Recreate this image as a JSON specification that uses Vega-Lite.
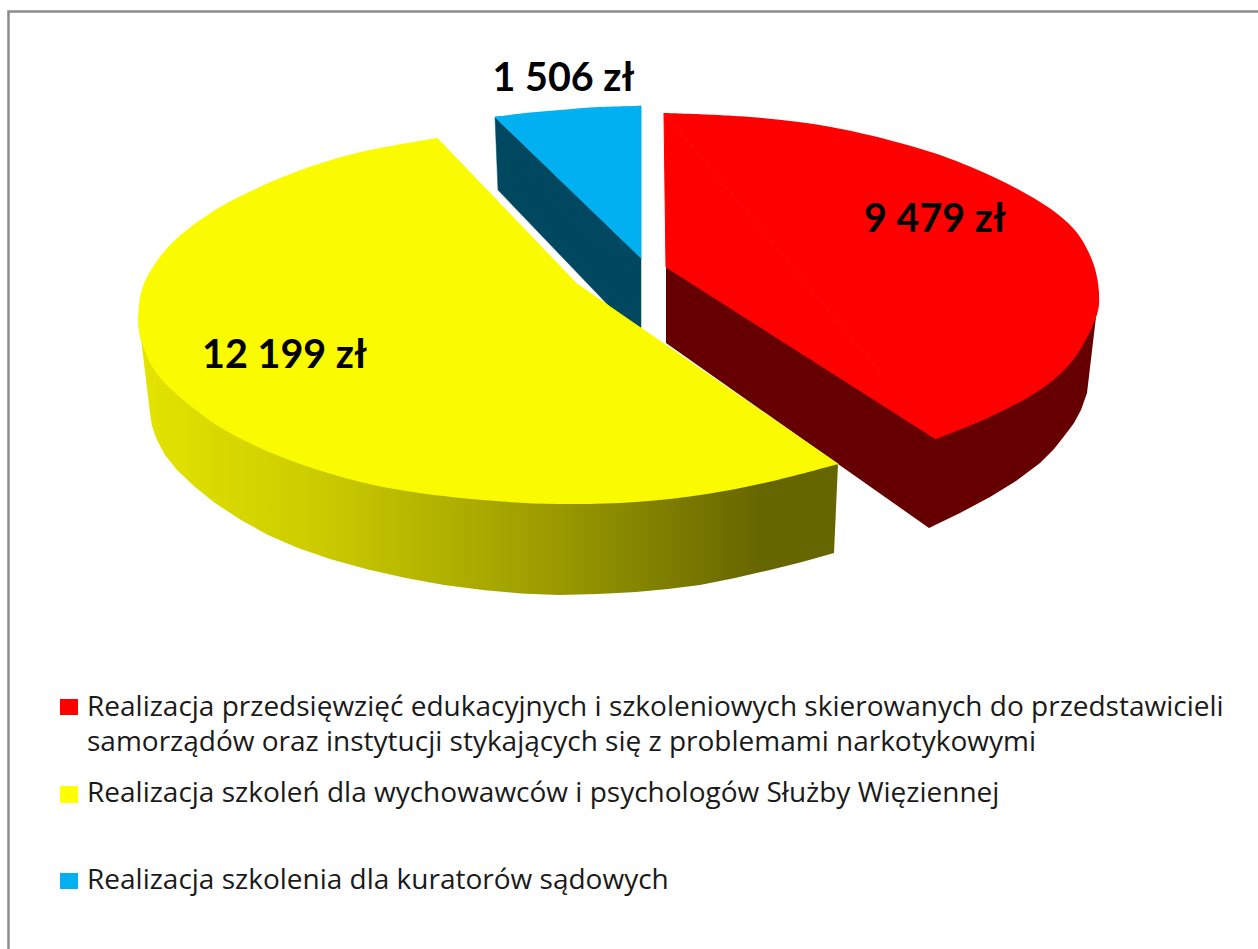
{"$schema":"https://vega.github.io/schema/vega-lite/v6.json","width":1258,"height":949,"padding":0,"autosize":"none","background":"white","config":{"view":{"stroke":null}},
"datasets":{
"shapes":[
{"part":"blueSide","i":1,"x":495,"y":117},{"part":"blueSide","i":2,"x":498,"y":190},{"part":"blueSide","i":3,"x":610,"y":307},{"part":"blueSide","i":4,"x":641,"y":332},{"part":"blueSide","i":5,"x":641,"y":257},
{"part":"blueWedge","i":1,"x":495,"y":117},{"part":"blueWedge","i":2,"x":641,"y":106},{"part":"blueWedge","i":3,"x":641,"y":258},{"part":"blueWedge","i":4,"x":495,"y":117},
{"part":"blueArc","i":1,"x":495,"y":117},{"part":"blueArc","i":2,"x":525,"y":113},{"part":"blueArc","i":3,"x":560,"y":110},{"part":"blueArc","i":4,"x":600,"y":107},{"part":"blueArc","i":5,"x":641,"y":106},
{"part":"redSide","i":1,"x":666,"y":267},{"part":"redSide","i":2,"x":666,"y":343},{"part":"redSide","i":3,"x":929,"y":528},{"part":"redSide","i":4,"x":960,"y":513},{"part":"redSide","i":5,"x":990,"y":497},{"part":"redSide","i":6,"x":1016,"y":481},{"part":"redSide","i":7,"x":1040,"y":463},{"part":"redSide","i":8,"x":1054,"y":449},{"part":"redSide","i":9,"x":1065,"y":435},{"part":"redSide","i":10,"x":1074,"y":423},{"part":"redSide","i":11,"x":1081,"y":410},{"part":"redSide","i":12,"x":1087,"y":393},{"part":"redSide","i":13,"x":1098,"y":300},{"part":"redSide","i":14,"x":936,"y":400},
{"part":"redWedge","i":1,"x":664,"y":113},{"part":"redWedge","i":2,"x":936,"y":439},{"part":"redWedge","i":3,"x":666,"y":267},{"part":"redWedge","i":4,"x":664,"y":113},
{"part":"redArc","i":1,"x":664,"y":113},{"part":"redArc","i":2,"x":750,"y":117},{"part":"redArc","i":3,"x":831,"y":127},{"part":"redArc","i":4,"x":911,"y":146},{"part":"redArc","i":5,"x":971,"y":167},{"part":"redArc","i":6,"x":1032,"y":197},{"part":"redArc","i":7,"x":1072,"y":227},{"part":"redArc","i":8,"x":1092,"y":260},{"part":"redArc","i":9,"x":1099,"y":293},{"part":"redArc","i":10,"x":1095,"y":320},{"part":"redArc","i":11,"x":1073,"y":360},{"part":"redArc","i":12,"x":1040,"y":390},{"part":"redArc","i":13,"x":990,"y":417},{"part":"redArc","i":14,"x":936,"y":439},
{"part":"yellowSide","i":1,"x":140,"y":330},{"part":"yellowSide","i":2,"x":838,"y":464},{"part":"yellowSide","i":3,"x":834,"y":553},{"part":"yellowSide","i":4,"x":802,"y":562},{"part":"yellowSide","i":5,"x":770,"y":570},{"part":"yellowSide","i":6,"x":735,"y":578},{"part":"yellowSide","i":7,"x":700,"y":585},{"part":"yellowSide","i":8,"x":668,"y":589},{"part":"yellowSide","i":9,"x":636,"y":592},{"part":"yellowSide","i":10,"x":598,"y":594},{"part":"yellowSide","i":11,"x":559,"y":595},{"part":"yellowSide","i":12,"x":521,"y":593.5},{"part":"yellowSide","i":13,"x":483,"y":590},{"part":"yellowSide","i":14,"x":444,"y":585},{"part":"yellowSide","i":15,"x":406,"y":578},{"part":"yellowSide","i":16,"x":368,"y":569.5},{"part":"yellowSide","i":17,"x":330,"y":559},{"part":"yellowSide","i":18,"x":298,"y":548},{"part":"yellowSide","i":19,"x":268,"y":535},{"part":"yellowSide","i":20,"x":241,"y":520},{"part":"yellowSide","i":21,"x":215,"y":503},{"part":"yellowSide","i":22,"x":195,"y":487},{"part":"yellowSide","i":23,"x":177,"y":470},{"part":"yellowSide","i":24,"x":165,"y":455},{"part":"yellowSide","i":25,"x":157,"y":440},{"part":"yellowSide","i":26,"x":152,"y":426},{"part":"yellowSide","i":27,"x":150,"y":413},
{"part":"yellowWedge","i":1,"x":437,"y":138},{"part":"yellowWedge","i":2,"x":577,"y":284},{"part":"yellowWedge","i":3,"x":838,"y":464},{"part":"yellowWedge","i":4,"x":138,"y":318},{"part":"yellowWedge","i":5,"x":437,"y":138},
{"part":"yellowArcUpper","i":1,"x":437,"y":138},{"part":"yellowArcUpper","i":2,"x":361,"y":152},{"part":"yellowArcUpper","i":3,"x":301,"y":170},{"part":"yellowArcUpper","i":4,"x":249,"y":192},{"part":"yellowArcUpper","i":5,"x":209,"y":214},{"part":"yellowArcUpper","i":6,"x":173,"y":242},{"part":"yellowArcUpper","i":7,"x":151,"y":270},{"part":"yellowArcUpper","i":8,"x":141,"y":293},{"part":"yellowArcUpper","i":9,"x":138,"y":318},
{"part":"yellowArcLower","i":1,"x":138,"y":318},{"part":"yellowArcLower","i":2,"x":141,"y":340},{"part":"yellowArcLower","i":3,"x":157,"y":374},{"part":"yellowArcLower","i":4,"x":192,"y":407},{"part":"yellowArcLower","i":5,"x":230,"y":433},{"part":"yellowArcLower","i":6,"x":284,"y":458},{"part":"yellowArcLower","i":7,"x":345,"y":478},{"part":"yellowArcLower","i":8,"x":406,"y":491},{"part":"yellowArcLower","i":9,"x":483,"y":500},{"part":"yellowArcLower","i":10,"x":559,"y":504},{"part":"yellowArcLower","i":11,"x":636,"y":502},{"part":"yellowArcLower","i":12,"x":707,"y":494},{"part":"yellowArcLower","i":13,"x":773,"y":481},{"part":"yellowArcLower","i":14,"x":838,"y":464},
{"part":"frame","i":1,"x":8.5,"y":949},{"part":"frame","i":2,"x":8.5,"y":11.5},{"part":"frame","i":3,"x":1258,"y":11.5}
],
"labels":[
{"category":"Realizacja przedsięwzięć edukacyjnych i szkoleniowych","value":9479,"label":"9 479 zł","x":935,"y":232},
{"category":"Realizacja szkoleń","value":12199,"label":"12 199 zł","x":284.5,"y":368},
{"category":"Realizacja szkolenia dla kuratorów","value":1506,"label":"1 506 zł","x":563.5,"y":91}
],
"legendText":[
{"text":"Realizacja przedsięwzięć edukacyjnych i szkoleniowych skierowanych do przedstawicieli","x":87,"y":716},
{"text":"samorządów oraz instytucji stykających się z problemami narkotykowymi","x":87,"y":751},
{"text":"Realizacja szkoleń dla wychowawców i psychologów Służby Więziennej","x":87,"y":802},
{"text":"Realizacja szkolenia dla kuratorów sądowych","x":87,"y":889}
],
"legendKeys":[
{"key":"red","x":60,"x2":78,"y":699,"y2":715},
{"key":"yellow","x":60,"x2":78,"y":786,"y2":803},
{"key":"blue","x":60,"x2":78,"y":873,"y2":889}
]},
"encoding":{
"x":{"field":"x","type":"quantitative","axis":null,"scale":{"domain":[0,1258],"nice":false,"zero":false}},
"y":{"field":"y","type":"quantitative","axis":null,"scale":{"domain":[949,0],"nice":false,"zero":false}}
},
"layer":[
{"data":{"name":"shapes"},"transform":[{"filter":"datum.part==='frame'"}],"mark":{"type":"line","stroke":"#8c8c8c","strokeWidth":2.5},"encoding":{"order":{"field":"i"}}},
{"data":{"name":"shapes"},"transform":[{"filter":"datum.part==='blueSide'"}],"mark":{"type":"line","fill":"#004860","stroke":"#004860","strokeWidth":0.5},"encoding":{"order":{"field":"i"}}},
{"data":{"name":"shapes"},"transform":[{"filter":"datum.part==='blueWedge'"}],"mark":{"type":"line","fill":"#00b0f0","stroke":"#00b0f0","strokeWidth":1},"encoding":{"order":{"field":"i"}}},
{"data":{"name":"shapes"},"transform":[{"filter":"datum.part==='blueArc'"}],"mark":{"type":"line","interpolate":"cardinal","fill":"#00b0f0","strokeWidth":0},"encoding":{"order":{"field":"i"}}},
{"data":{"name":"shapes"},"transform":[{"filter":"datum.part==='redSide'"}],"mark":{"type":"line","fill":"#660000","strokeWidth":0},"encoding":{"order":{"field":"i"}}},
{"data":{"name":"shapes"},"transform":[{"filter":"datum.part==='redWedge'"}],"mark":{"type":"line","fill":"#fe0000","stroke":"#fe0000","strokeWidth":1},"encoding":{"order":{"field":"i"}}},
{"data":{"name":"shapes"},"transform":[{"filter":"datum.part==='redArc'"}],"mark":{"type":"line","interpolate":"cardinal","fill":"#fe0000","strokeWidth":0},"encoding":{"order":{"field":"i"}}},
{"data":{"name":"shapes"},"transform":[{"filter":"datum.part==='yellowSide'"}],"mark":{"type":"line","strokeWidth":0,"fill":{"gradient":"linear","x1":0,"y1":0,"x2":1,"y2":0,"stops":[{"offset":0,"color":"#e4e400"},{"offset":0.25,"color":"#cccc00"},{"offset":0.6,"color":"#999900"},{"offset":0.89,"color":"#666600"},{"offset":1,"color":"#666600"}]}},"encoding":{"order":{"field":"i"}}},
{"data":{"name":"shapes"},"transform":[{"filter":"datum.part==='yellowWedge'"}],"mark":{"type":"line","fill":"#fafa00","stroke":"#fafa00","strokeWidth":1},"encoding":{"order":{"field":"i"}}},
{"data":{"name":"shapes"},"transform":[{"filter":"datum.part==='yellowArcUpper'"}],"mark":{"type":"line","interpolate":"cardinal","fill":"#fafa00","strokeWidth":0},"encoding":{"order":{"field":"i"}}},
{"data":{"name":"shapes"},"transform":[{"filter":"datum.part==='yellowArcLower'"}],"mark":{"type":"line","interpolate":"cardinal","fill":"#fafa00","strokeWidth":0},"encoding":{"order":{"field":"i"}}},
{"data":{"name":"labels"},"mark":{"type":"text","font":"Lato","fontWeight":"bold","fontSize":39.5,"align":"center","baseline":"alphabetic","color":"#000000"},"encoding":{"text":{"field":"label"}}},
{"data":{"name":"legendKeys"},"mark":{"type":"rect"},"encoding":{"x2":{"field":"x2"},"y2":{"field":"y2"},"color":{"field":"key","type":"nominal","legend":null,"scale":{"domain":["red","yellow","blue"],"range":["#ff0000","#ffff00","#00b0f0"]}}}},
{"data":{"name":"legendText"},"mark":{"type":"text","font":"Open Sans","fontSize":28,"align":"left","baseline":"alphabetic","color":"#1a1a1a"},"encoding":{"text":{"field":"text"}}}
]}
